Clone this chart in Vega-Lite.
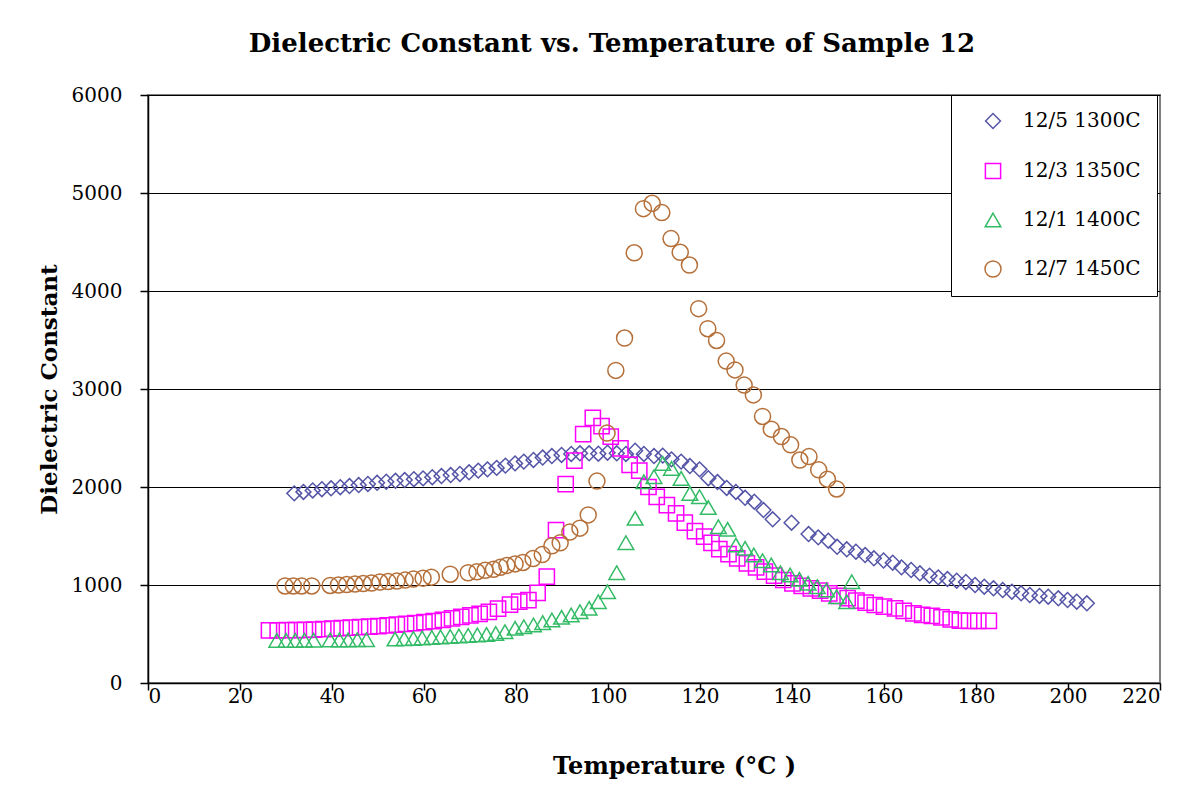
{
  "$schema": "https://vega.github.io/schema/vega-lite/v6.json",
  "width": 1012,
  "height": 588,
  "autosize": {"type": "none"},
  "padding": {"left": 148, "top": 95, "right": 32, "bottom": 122},
  "background": "white",
  "title": {
    "text": "Dielectric Constant vs. Temperature of Sample 12",
    "font": "DejaVu Serif",
    "fontSize": 26,
    "fontWeight": "bold",
    "color": "black",
    "anchor": "middle",
    "dx": -42,
    "offset": 28
  },
  "config": {
    "view": {"stroke": "#808080", "strokeWidth": 2},
    "axis": {
      "labelFont": "DejaVu Serif",
      "labelFontSize": 20,
      "labelColor": "black",
      "titleFont": "DejaVu Serif",
      "titleFontSize": 23,
      "titleFontWeight": "bold",
      "titleColor": "black",
      "domainColor": "black",
      "domainWidth": 1.5,
      "tickColor": "black",
      "tickWidth": 1.5,
      "gridColor": "black",
      "gridWidth": 1
    }
  },
  "data": {
    "values": [
      {"series": "12/5 1300C", "T": 31.8, "K": 1935},
      {"series": "12/5 1300C", "T": 33.8, "K": 1950},
      {"series": "12/5 1300C", "T": 35.8, "K": 1965},
      {"series": "12/5 1300C", "T": 37.8, "K": 1978},
      {"series": "12/5 1300C", "T": 39.8, "K": 1987},
      {"series": "12/5 1300C", "T": 41.8, "K": 1998},
      {"series": "12/5 1300C", "T": 43.8, "K": 2010},
      {"series": "12/5 1300C", "T": 45.8, "K": 2020},
      {"series": "12/5 1300C", "T": 47.8, "K": 2031},
      {"series": "12/5 1300C", "T": 49.8, "K": 2043},
      {"series": "12/5 1300C", "T": 51.8, "K": 2054},
      {"series": "12/5 1300C", "T": 53.8, "K": 2063},
      {"series": "12/5 1300C", "T": 55.8, "K": 2071},
      {"series": "12/5 1300C", "T": 57.8, "K": 2080},
      {"series": "12/5 1300C", "T": 59.8, "K": 2088},
      {"series": "12/5 1300C", "T": 61.8, "K": 2100},
      {"series": "12/5 1300C", "T": 63.8, "K": 2112},
      {"series": "12/5 1300C", "T": 65.8, "K": 2122},
      {"series": "12/5 1300C", "T": 67.8, "K": 2133},
      {"series": "12/5 1300C", "T": 69.8, "K": 2150},
      {"series": "12/5 1300C", "T": 71.8, "K": 2167},
      {"series": "12/5 1300C", "T": 73.8, "K": 2180},
      {"series": "12/5 1300C", "T": 75.8, "K": 2195},
      {"series": "12/5 1300C", "T": 77.7, "K": 2218},
      {"series": "12/5 1300C", "T": 79.8, "K": 2241},
      {"series": "12/5 1300C", "T": 81.7, "K": 2259},
      {"series": "12/5 1300C", "T": 83.8, "K": 2276},
      {"series": "12/5 1300C", "T": 85.8, "K": 2300},
      {"series": "12/5 1300C", "T": 87.8, "K": 2316},
      {"series": "12/5 1300C", "T": 89.9, "K": 2327},
      {"series": "12/5 1300C", "T": 92.0, "K": 2337},
      {"series": "12/5 1300C", "T": 93.9, "K": 2344},
      {"series": "12/5 1300C", "T": 95.9, "K": 2344},
      {"series": "12/5 1300C", "T": 97.9, "K": 2340},
      {"series": "12/5 1300C", "T": 99.9, "K": 2350},
      {"series": "12/5 1300C", "T": 101.9, "K": 2344},
      {"series": "12/5 1300C", "T": 103.9, "K": 2337},
      {"series": "12/5 1300C", "T": 105.9, "K": 2370},
      {"series": "12/5 1300C", "T": 107.8, "K": 2337},
      {"series": "12/5 1300C", "T": 110.0, "K": 2316},
      {"series": "12/5 1300C", "T": 111.9, "K": 2320},
      {"series": "12/5 1300C", "T": 113.8, "K": 2282},
      {"series": "12/5 1300C", "T": 115.9, "K": 2259},
      {"series": "12/5 1300C", "T": 117.8, "K": 2214},
      {"series": "12/5 1300C", "T": 119.9, "K": 2180},
      {"series": "12/5 1300C", "T": 121.8, "K": 2090},
      {"series": "12/5 1300C", "T": 123.8, "K": 2050},
      {"series": "12/5 1300C", "T": 125.8, "K": 1990},
      {"series": "12/5 1300C", "T": 127.8, "K": 1950},
      {"series": "12/5 1300C", "T": 129.8, "K": 1890},
      {"series": "12/5 1300C", "T": 131.8, "K": 1850},
      {"series": "12/5 1300C", "T": 133.8, "K": 1765},
      {"series": "12/5 1300C", "T": 135.8, "K": 1670},
      {"series": "12/5 1300C", "T": 139.9, "K": 1636},
      {"series": "12/5 1300C", "T": 143.6, "K": 1520},
      {"series": "12/5 1300C", "T": 145.7, "K": 1486},
      {"series": "12/5 1300C", "T": 147.9, "K": 1452},
      {"series": "12/5 1300C", "T": 149.8, "K": 1390},
      {"series": "12/5 1300C", "T": 151.9, "K": 1364},
      {"series": "12/5 1300C", "T": 153.9, "K": 1340},
      {"series": "12/5 1300C", "T": 155.9, "K": 1306},
      {"series": "12/5 1300C", "T": 157.8, "K": 1272},
      {"series": "12/5 1300C", "T": 159.9, "K": 1250},
      {"series": "12/5 1300C", "T": 161.9, "K": 1228},
      {"series": "12/5 1300C", "T": 163.8, "K": 1180},
      {"series": "12/5 1300C", "T": 165.9, "K": 1153},
      {"series": "12/5 1300C", "T": 167.8, "K": 1119},
      {"series": "12/5 1300C", "T": 169.9, "K": 1095},
      {"series": "12/5 1300C", "T": 171.8, "K": 1078},
      {"series": "12/5 1300C", "T": 173.8, "K": 1061},
      {"series": "12/5 1300C", "T": 175.8, "K": 1044},
      {"series": "12/5 1300C", "T": 177.8, "K": 1031},
      {"series": "12/5 1300C", "T": 179.8, "K": 1000},
      {"series": "12/5 1300C", "T": 181.8, "K": 983},
      {"series": "12/5 1300C", "T": 183.8, "K": 966},
      {"series": "12/5 1300C", "T": 185.8, "K": 949},
      {"series": "12/5 1300C", "T": 187.8, "K": 932},
      {"series": "12/5 1300C", "T": 189.8, "K": 915},
      {"series": "12/5 1300C", "T": 191.7, "K": 898},
      {"series": "12/5 1300C", "T": 193.8, "K": 888},
      {"series": "12/5 1300C", "T": 195.7, "K": 881},
      {"series": "12/5 1300C", "T": 197.9, "K": 864},
      {"series": "12/5 1300C", "T": 199.9, "K": 847},
      {"series": "12/5 1300C", "T": 201.9, "K": 830},
      {"series": "12/5 1300C", "T": 204.1, "K": 813},

      {"series": "12/3 1350C", "T": 26.3, "K": 538},
      {"series": "12/3 1350C", "T": 28.2, "K": 538},
      {"series": "12/3 1350C", "T": 30.2, "K": 540},
      {"series": "12/3 1350C", "T": 32.2, "K": 540},
      {"series": "12/3 1350C", "T": 34.1, "K": 542},
      {"series": "12/3 1350C", "T": 36.1, "K": 545},
      {"series": "12/3 1350C", "T": 38.1, "K": 550},
      {"series": "12/3 1350C", "T": 40.1, "K": 555},
      {"series": "12/3 1350C", "T": 42.1, "K": 560},
      {"series": "12/3 1350C", "T": 44.1, "K": 565},
      {"series": "12/3 1350C", "T": 46.1, "K": 570},
      {"series": "12/3 1350C", "T": 48.1, "K": 575},
      {"series": "12/3 1350C", "T": 50.1, "K": 580},
      {"series": "12/3 1350C", "T": 52.1, "K": 587},
      {"series": "12/3 1350C", "T": 54.1, "K": 595},
      {"series": "12/3 1350C", "T": 56.1, "K": 603},
      {"series": "12/3 1350C", "T": 58.1, "K": 612},
      {"series": "12/3 1350C", "T": 60.1, "K": 622},
      {"series": "12/3 1350C", "T": 62.1, "K": 632},
      {"series": "12/3 1350C", "T": 64.1, "K": 645},
      {"series": "12/3 1350C", "T": 66.1, "K": 660},
      {"series": "12/3 1350C", "T": 68.1, "K": 675},
      {"series": "12/3 1350C", "T": 70.1, "K": 690},
      {"series": "12/3 1350C", "T": 72.1, "K": 705},
      {"series": "12/3 1350C", "T": 74.1, "K": 725},
      {"series": "12/3 1350C", "T": 76.1, "K": 760},
      {"series": "12/3 1350C", "T": 78.7, "K": 800},
      {"series": "12/3 1350C", "T": 80.7, "K": 830},
      {"series": "12/3 1350C", "T": 82.7, "K": 845},
      {"series": "12/3 1350C", "T": 84.7, "K": 920},
      {"series": "12/3 1350C", "T": 86.7, "K": 1085},
      {"series": "12/3 1350C", "T": 88.7, "K": 1560},
      {"series": "12/3 1350C", "T": 90.8, "K": 2030},
      {"series": "12/3 1350C", "T": 92.7, "K": 2270},
      {"series": "12/3 1350C", "T": 94.6, "K": 2540},
      {"series": "12/3 1350C", "T": 96.7, "K": 2705},
      {"series": "12/3 1350C", "T": 98.6, "K": 2620},
      {"series": "12/3 1350C", "T": 100.6, "K": 2515},
      {"series": "12/3 1350C", "T": 102.7, "K": 2395},
      {"series": "12/3 1350C", "T": 104.7, "K": 2225},
      {"series": "12/3 1350C", "T": 106.8, "K": 2166},
      {"series": "12/3 1350C", "T": 108.8, "K": 2000},
      {"series": "12/3 1350C", "T": 110.6, "K": 1900},
      {"series": "12/3 1350C", "T": 112.8, "K": 1816},
      {"series": "12/3 1350C", "T": 114.8, "K": 1730},
      {"series": "12/3 1350C", "T": 116.7, "K": 1636},
      {"series": "12/3 1350C", "T": 118.9, "K": 1550},
      {"series": "12/3 1350C", "T": 120.9, "K": 1493},
      {"series": "12/3 1350C", "T": 122.5, "K": 1430},
      {"series": "12/3 1350C", "T": 124.2, "K": 1367},
      {"series": "12/3 1350C", "T": 126.2, "K": 1316},
      {"series": "12/3 1350C", "T": 128.1, "K": 1272},
      {"series": "12/3 1350C", "T": 130.2, "K": 1221},
      {"series": "12/3 1350C", "T": 132.2, "K": 1180},
      {"series": "12/3 1350C", "T": 134.1, "K": 1136},
      {"series": "12/3 1350C", "T": 136.1, "K": 1095},
      {"series": "12/3 1350C", "T": 138.1, "K": 1051},
      {"series": "12/3 1350C", "T": 140.1, "K": 1017},
      {"series": "12/3 1350C", "T": 142.1, "K": 990},
      {"series": "12/3 1350C", "T": 144.1, "K": 966},
      {"series": "12/3 1350C", "T": 146.1, "K": 942},
      {"series": "12/3 1350C", "T": 148.1, "K": 915},
      {"series": "12/3 1350C", "T": 150.1, "K": 890},
      {"series": "12/3 1350C", "T": 152.1, "K": 865},
      {"series": "12/3 1350C", "T": 154.0, "K": 840},
      {"series": "12/3 1350C", "T": 156.0, "K": 819},
      {"series": "12/3 1350C", "T": 158.0, "K": 796},
      {"series": "12/3 1350C", "T": 160.0, "K": 779},
      {"series": "12/3 1350C", "T": 162.4, "K": 762},
      {"series": "12/3 1350C", "T": 164.3, "K": 735},
      {"series": "12/3 1350C", "T": 166.4, "K": 711},
      {"series": "12/3 1350C", "T": 168.3, "K": 694},
      {"series": "12/3 1350C", "T": 170.4, "K": 684},
      {"series": "12/3 1350C", "T": 172.5, "K": 670},
      {"series": "12/3 1350C", "T": 174.5, "K": 650},
      {"series": "12/3 1350C", "T": 176.5, "K": 636},
      {"series": "12/3 1350C", "T": 178.5, "K": 633},
      {"series": "12/3 1350C", "T": 180.5, "K": 633},
      {"series": "12/3 1350C", "T": 182.8, "K": 633},

      {"series": "12/1 1400C", "T": 28.0, "K": 435},
      {"series": "12/1 1400C", "T": 30.0, "K": 435},
      {"series": "12/1 1400C", "T": 32.0, "K": 435},
      {"series": "12/1 1400C", "T": 34.0, "K": 437},
      {"series": "12/1 1400C", "T": 36.0, "K": 437},
      {"series": "12/1 1400C", "T": 39.6, "K": 440},
      {"series": "12/1 1400C", "T": 41.6, "K": 440},
      {"series": "12/1 1400C", "T": 43.5, "K": 440},
      {"series": "12/1 1400C", "T": 45.5, "K": 442},
      {"series": "12/1 1400C", "T": 47.5, "K": 442},
      {"series": "12/1 1400C", "T": 53.7, "K": 448},
      {"series": "12/1 1400C", "T": 55.7, "K": 452},
      {"series": "12/1 1400C", "T": 57.7, "K": 455},
      {"series": "12/1 1400C", "T": 59.6, "K": 460},
      {"series": "12/1 1400C", "T": 61.7, "K": 465},
      {"series": "12/1 1400C", "T": 63.6, "K": 470},
      {"series": "12/1 1400C", "T": 65.7, "K": 475},
      {"series": "12/1 1400C", "T": 67.6, "K": 480},
      {"series": "12/1 1400C", "T": 69.6, "K": 485},
      {"series": "12/1 1400C", "T": 71.6, "K": 490},
      {"series": "12/1 1400C", "T": 73.6, "K": 495},
      {"series": "12/1 1400C", "T": 75.6, "K": 505},
      {"series": "12/1 1400C", "T": 77.6, "K": 524},
      {"series": "12/1 1400C", "T": 79.8, "K": 558},
      {"series": "12/1 1400C", "T": 81.7, "K": 575},
      {"series": "12/1 1400C", "T": 83.8, "K": 592},
      {"series": "12/1 1400C", "T": 85.8, "K": 616},
      {"series": "12/1 1400C", "T": 87.8, "K": 643},
      {"series": "12/1 1400C", "T": 89.9, "K": 670},
      {"series": "12/1 1400C", "T": 92.0, "K": 694},
      {"series": "12/1 1400C", "T": 93.9, "K": 728},
      {"series": "12/1 1400C", "T": 95.9, "K": 762},
      {"series": "12/1 1400C", "T": 97.9, "K": 830},
      {"series": "12/1 1400C", "T": 99.9, "K": 932},
      {"series": "12/1 1400C", "T": 101.9, "K": 1126},
      {"series": "12/1 1400C", "T": 103.9, "K": 1432},
      {"series": "12/1 1400C", "T": 105.9, "K": 1680},
      {"series": "12/1 1400C", "T": 107.8, "K": 2054},
      {"series": "12/1 1400C", "T": 110.0, "K": 2105},
      {"series": "12/1 1400C", "T": 111.9, "K": 2241},
      {"series": "12/1 1400C", "T": 113.8, "K": 2190},
      {"series": "12/1 1400C", "T": 115.9, "K": 2088},
      {"series": "12/1 1400C", "T": 117.8, "K": 1935},
      {"series": "12/1 1400C", "T": 119.9, "K": 1901},
      {"series": "12/1 1400C", "T": 121.8, "K": 1790},
      {"series": "12/1 1400C", "T": 124.0, "K": 1595},
      {"series": "12/1 1400C", "T": 126.0, "K": 1568},
      {"series": "12/1 1400C", "T": 127.8, "K": 1408},
      {"series": "12/1 1400C", "T": 129.8, "K": 1374},
      {"series": "12/1 1400C", "T": 131.7, "K": 1306},
      {"series": "12/1 1400C", "T": 133.6, "K": 1248},
      {"series": "12/1 1400C", "T": 135.5, "K": 1204},
      {"series": "12/1 1400C", "T": 137.5, "K": 1126},
      {"series": "12/1 1400C", "T": 139.6, "K": 1102},
      {"series": "12/1 1400C", "T": 141.6, "K": 1058},
      {"series": "12/1 1400C", "T": 143.5, "K": 1017},
      {"series": "12/1 1400C", "T": 145.5, "K": 983},
      {"series": "12/1 1400C", "T": 147.5, "K": 949},
      {"series": "12/1 1400C", "T": 149.7, "K": 881},
      {"series": "12/1 1400C", "T": 151.9, "K": 830},
      {"series": "12/1 1400C", "T": 153.0, "K": 1034},

      {"series": "12/7 1450C", "T": 29.8, "K": 990},
      {"series": "12/7 1450C", "T": 31.6, "K": 990},
      {"series": "12/7 1450C", "T": 33.4, "K": 990},
      {"series": "12/7 1450C", "T": 35.6, "K": 990},
      {"series": "12/7 1450C", "T": 39.6, "K": 995},
      {"series": "12/7 1450C", "T": 41.4, "K": 1000},
      {"series": "12/7 1450C", "T": 43.2, "K": 1005},
      {"series": "12/7 1450C", "T": 45.0, "K": 1010},
      {"series": "12/7 1450C", "T": 46.8, "K": 1015},
      {"series": "12/7 1450C", "T": 48.6, "K": 1020},
      {"series": "12/7 1450C", "T": 50.4, "K": 1030},
      {"series": "12/7 1450C", "T": 52.2, "K": 1035},
      {"series": "12/7 1450C", "T": 54.1, "K": 1040},
      {"series": "12/7 1450C", "T": 55.9, "K": 1050},
      {"series": "12/7 1450C", "T": 57.7, "K": 1060},
      {"series": "12/7 1450C", "T": 59.8, "K": 1070},
      {"series": "12/7 1450C", "T": 61.6, "K": 1080},
      {"series": "12/7 1450C", "T": 65.7, "K": 1110},
      {"series": "12/7 1450C", "T": 69.6, "K": 1125},
      {"series": "12/7 1450C", "T": 71.5, "K": 1135},
      {"series": "12/7 1450C", "T": 73.3, "K": 1150},
      {"series": "12/7 1450C", "T": 75.1, "K": 1160},
      {"series": "12/7 1450C", "T": 76.6, "K": 1180},
      {"series": "12/7 1450C", "T": 78.0, "K": 1200},
      {"series": "12/7 1450C", "T": 79.8, "K": 1215},
      {"series": "12/7 1450C", "T": 81.5, "K": 1230},
      {"series": "12/7 1450C", "T": 83.7, "K": 1270},
      {"series": "12/7 1450C", "T": 85.7, "K": 1310},
      {"series": "12/7 1450C", "T": 87.8, "K": 1400},
      {"series": "12/7 1450C", "T": 89.6, "K": 1430},
      {"series": "12/7 1450C", "T": 91.7, "K": 1540},
      {"series": "12/7 1450C", "T": 93.9, "K": 1580},
      {"series": "12/7 1450C", "T": 95.7, "K": 1715},
      {"series": "12/7 1450C", "T": 97.6, "K": 2060},
      {"series": "12/7 1450C", "T": 99.8, "K": 2550},
      {"series": "12/7 1450C", "T": 101.7, "K": 3190},
      {"series": "12/7 1450C", "T": 103.6, "K": 3520},
      {"series": "12/7 1450C", "T": 105.7, "K": 4390},
      {"series": "12/7 1450C", "T": 107.7, "K": 4840},
      {"series": "12/7 1450C", "T": 109.6, "K": 4895},
      {"series": "12/7 1450C", "T": 111.7, "K": 4800},
      {"series": "12/7 1450C", "T": 113.7, "K": 4535},
      {"series": "12/7 1450C", "T": 115.7, "K": 4395},
      {"series": "12/7 1450C", "T": 117.7, "K": 4265},
      {"series": "12/7 1450C", "T": 119.7, "K": 3820},
      {"series": "12/7 1450C", "T": 121.7, "K": 3615},
      {"series": "12/7 1450C", "T": 123.6, "K": 3495},
      {"series": "12/7 1450C", "T": 125.7, "K": 3285},
      {"series": "12/7 1450C", "T": 127.6, "K": 3195},
      {"series": "12/7 1450C", "T": 129.6, "K": 3040},
      {"series": "12/7 1450C", "T": 131.6, "K": 2940},
      {"series": "12/7 1450C", "T": 133.6, "K": 2720},
      {"series": "12/7 1450C", "T": 135.5, "K": 2590},
      {"series": "12/7 1450C", "T": 137.7, "K": 2515},
      {"series": "12/7 1450C", "T": 139.7, "K": 2430},
      {"series": "12/7 1450C", "T": 141.7, "K": 2275},
      {"series": "12/7 1450C", "T": 143.7, "K": 2310},
      {"series": "12/7 1450C", "T": 145.8, "K": 2175},
      {"series": "12/7 1450C", "T": 147.7, "K": 2080},
      {"series": "12/7 1450C", "T": 149.7, "K": 1980}
    ]
  },
  "mark": {"type": "point", "filled": false, "strokeWidth": 1.5, "opacity": 1},
  "encoding": {
    "x": {
      "field": "T",
      "type": "quantitative",
      "scale": {"domain": [0, 220], "nice": false},
      "axis": {
        "values": [0, 20, 40, 60, 80, 100, 120, 140, 160, 180, 200, 220],
        "format": "d",
        "grid": false,
        "tickSize": 7,
        "labelPadding": -4,
        "title": "Temperature (°C )",
        "titleFontSize": 24,
        "titleX": 526,
        "titleY": 90,
        "titleBaseline": "alphabetic",
        "titleAnchor": "middle"
      }
    },
    "y": {
      "field": "K",
      "type": "quantitative",
      "scale": {"domain": [0, 6000], "nice": false},
      "axis": {
        "values": [0, 1000, 2000, 3000, 4000, 5000, 6000],
        "format": "d",
        "grid": true,
        "tickSize": 8,
        "labelPadding": 18,
        "title": "Dielectric Constant",
        "titleFontSize": 23,
        "titleAngle": -90,
        "titleX": -92,
        "titleY": 294,
        "titleAlign": "center",
        "titleBaseline": "alphabetic"
      }
    },
    "color": {
      "field": "series",
      "type": "nominal",
      "scale": {
        "domain": ["12/5 1300C", "12/3 1350C", "12/1 1400C", "12/7 1450C"],
        "range": ["#5555a8", "#ff00ff", "#33bb66", "#b5703a"]
      },
      "legend": {
        "title": null,
        "orient": "none",
        "legendX": 803,
        "legendY": 0,
        "strokeColor": "black",
        "fillColor": "white",
        "padding": 16,
        "rowPadding": 28,
        "symbolOffset": 16,
        "labelOffset": 20,
        "labelFont": "DejaVu Serif",
        "labelFontSize": 20,
        "labelColor": "black",
        "symbolSize": 170,
        "symbolStrokeWidth": 1.5
      }
    },
    "shape": {
      "field": "series",
      "type": "nominal",
      "scale": {
        "domain": ["12/5 1300C", "12/3 1350C", "12/1 1400C", "12/7 1450C"],
        "range": ["diamond", "square", "triangle-up", "circle"]
      },
      "legend": {
        "title": null,
        "orient": "none",
        "legendX": 803,
        "legendY": 0,
        "strokeColor": "black",
        "fillColor": "white",
        "padding": 16,
        "rowPadding": 28,
        "symbolOffset": 16,
        "labelOffset": 20,
        "labelFont": "DejaVu Serif",
        "labelFontSize": 20,
        "labelColor": "black",
        "symbolSize": 170,
        "symbolStrokeWidth": 1.5
      }
    },
    "size": {
      "field": "series",
      "type": "nominal",
      "scale": {
        "domain": ["12/5 1300C", "12/3 1350C", "12/1 1400C", "12/7 1450C"],
        "range": [220, 256, 300, 300]
      },
      "legend": null
    }
  }
}
